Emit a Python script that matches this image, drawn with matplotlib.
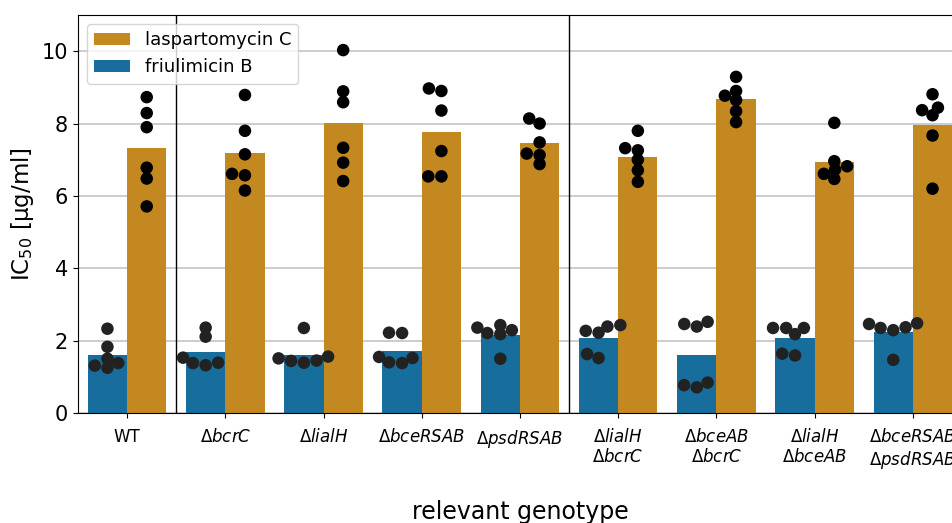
import numpy as np
import pandas as pd
import matplotlib
matplotlib.use("Agg")
import matplotlib.pyplot as plt
import seaborn as sns

genotypes = [
    "WT", "bcrC", "lialH", "bceRSAB", "psdRSAB",
    "lialH bcrC", "bceAB bcrC", "lialH bceAB", "bceRSAB psdRSAB",
]

# IC50 replicates in ug/ml, one list per genotype
friulimicin = [
    [2.33, 1.83, 1.50, 1.31, 1.25, 1.38],
    [2.36, 2.11, 1.53, 1.38, 1.32, 1.39],
    [1.51, 1.44, 2.35, 1.39, 1.45, 1.56],
    [2.22, 2.21, 1.55, 1.40, 1.38, 1.52],
    [2.36, 2.21, 2.43, 2.18, 2.29, 1.50],
    [2.27, 2.22, 2.39, 2.43, 1.63, 1.52],
    [2.46, 2.39, 2.52, 0.77, 0.71, 0.84],
    [2.35, 2.18, 2.35, 2.35, 1.64, 1.59],
    [2.46, 2.35, 2.29, 2.37, 2.48, 1.47],
]
laspartomycin = [
    [8.73, 8.29, 7.90, 6.78, 6.48, 5.71],
    [8.79, 7.80, 7.15, 6.61, 6.57, 6.15],
    [10.03, 8.89, 8.59, 7.33, 6.92, 6.41],
    [8.97, 8.90, 8.36, 7.24, 6.54, 6.54],
    [8.14, 8.00, 7.48, 7.17, 7.13, 6.88],
    [7.80, 7.32, 7.26, 7.00, 6.71, 6.39],
    [9.29, 8.90, 8.77, 8.65, 8.34, 8.04],
    [8.02, 6.96, 6.73, 6.82, 6.61, 6.47],
    [8.81, 8.37, 8.44, 8.23, 7.67, 6.20],
]

rows = []
for g, fr, la in zip(genotypes, friulimicin, laspartomycin):
    rows += [(g, "friulimicin B", v) for v in fr]
    rows += [(g, "laspartomycin C", v) for v in la]
df = pd.DataFrame(rows, columns=["genotype", "antibiotic", "ic50"])

def tick_label(g):
    if g == "WT":
        return "WT"
    return "\n".join(r"$\Delta\mathit{%s}$" % p for p in g.split())

hue_order = ["friulimicin B", "laspartomycin C"]
W, H = 9.52, 5.23

fig = plt.figure(figsize=(W, H), dpi=100)
ax = fig.add_axes([0.0819, 0.2103, 0.9286, 0.761])

sns.barplot(data=df, x="genotype", y="ic50", hue="antibiotic", order=genotypes,
            hue_order=hue_order, palette="colorblind", errorbar=None, ax=ax)
leg = ax.get_legend()
handles = list(leg.legend_handles)
labels = [t.get_text() for t in leg.texts]

sns.swarmplot(data=df, x="genotype", y="ic50", hue="antibiotic", order=genotypes,
              hue_order=hue_order, palette=["#222222", "black"], dodge=True,
              size=9, legend=False, ax=ax)

ax.legend(handles[::-1], labels[::-1], loc="upper left", fontsize=13)

ax.axvline(0.5, color="black", lw=1)
ax.axvline(4.5, color="black", lw=1)

ax.set_ylim(0, 11)
ax.set_xlim(-0.5, len(genotypes) - 0.5)
ax.set_yticks([0, 2, 4, 6, 8, 10])
ax.yaxis.grid(True, color="#c4c4c4", lw=1.2)
ax.set_axisbelow(True)

ax.set_xticks(range(len(genotypes)))
ax.set_xticklabels([tick_label(g) for g in genotypes], fontsize=12)
ax.tick_params(axis="x", pad=7)
ax.tick_params(axis="y", labelsize=15)
ax.set_ylabel(r"IC$_{50}$ [µg/ml]", fontsize=16.5)
ax.set_xlabel("relevant genotype", fontsize=17, labelpad=21)

# lay the swarms out on a taller canvas (points pack closer vertically),
# then freeze those positions and go back to the real size
fig.set_size_inches(W, H * 1.5)
fig.canvas.draw()
for pts in ax.collections:
    pts.__dict__.pop("draw", None)
fig.set_size_inches(W, H)

fig.savefig("out.png", dpi=100)
